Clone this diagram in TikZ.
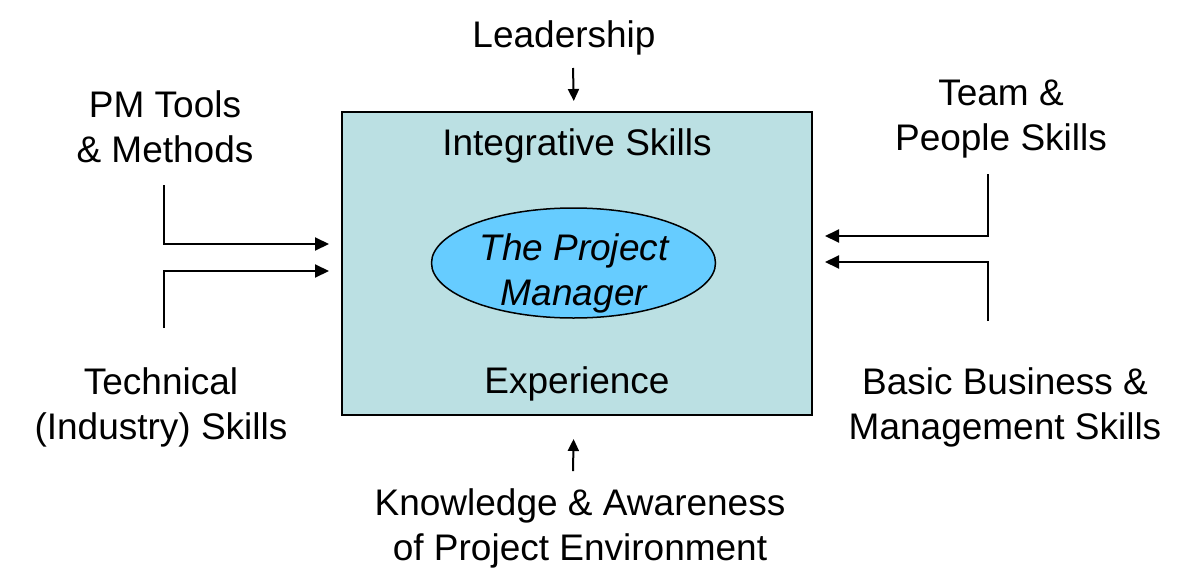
\documentclass[tikz,border=0pt]{standalone}
\usepackage{fontspec}
\setmainfont{Liberation Sans}
\usetikzlibrary{calc,shapes.geometric,arrows.meta}
\definecolor{boxfill}{HTML}{BBE0E3}
\definecolor{pmfill}{HTML}{66CCFF}
\begin{document}
\begin{tikzpicture}[x=1pt,y=-1pt,
  every node/.style={font=\fontsize{37}{45}\selectfont, inner sep=0pt},
  skill/.style={align=center},
  feed/.style={-{Triangle[length=14pt,width=13pt]}, line width=2pt, shorten >=12pt},
  push/.style={-{Triangle[length=12pt,width=11pt]}, line width=2pt}]
\useasboundingbox (0,0) rectangle (1185,578);

\node(box)[draw, line width=2pt, fill=boxfill, rectangle, minimum width=470, minimum height=303] at (577,263.5) {};
\node(pmshape)[draw, line width=1.5pt, fill=pmfill, ellipse, minimum width=284, minimum height=110] at (573.5,263) {};
\node(pm)[align=center, font=\fontsize{37}{45}\selectfont\itshape] at (574,273) {The Project\\Manager};

\node(integ)[anchor=base] at (577,155) {Integrative Skills};
\node(exper)[anchor=base] at (577,393) {Experience};

\node(lead)[anchor=base] at (564,48) {Leadership};
\node(tools)[skill] at (165,127) {PM Tools\\\& Methods};
\node(tech)[skill] at (161,407) {Technical\\(Industry) Skills};
\node(team)[skill] at (1001,119) {Team \&\\People Skills};
\node(bus)[skill] at (1005,407) {Basic Business \&\\Management Skills};
\node(know)[skill] at (580,528) {Knowledge \& Awareness\\of Project Environment};

\draw[push, shorten >=10pt] (lead.base -| pm.north) ++(-1,20) -- (box.north -| pm.north);
\draw[feed] (tools.south) ++(-1,22) |- ($(box.west)+(0,-19.5)$);
\draw[feed] (tech.north) ++(3,-39) |- ($(box.west)+(0,7.5)$);
\draw[feed] (team.south) ++(-13,16) |- ($(box.east)+(0,-27.5)$);
\draw[feed] (bus.north) ++(-17,-46) |- ($(box.east)+(0,-1.5)$);
\draw[push, shorten >=23pt] (know.north -| pm.south) ++(-1,-17) -- (box.south -| pm.south);
\end{tikzpicture}
\end{document}
